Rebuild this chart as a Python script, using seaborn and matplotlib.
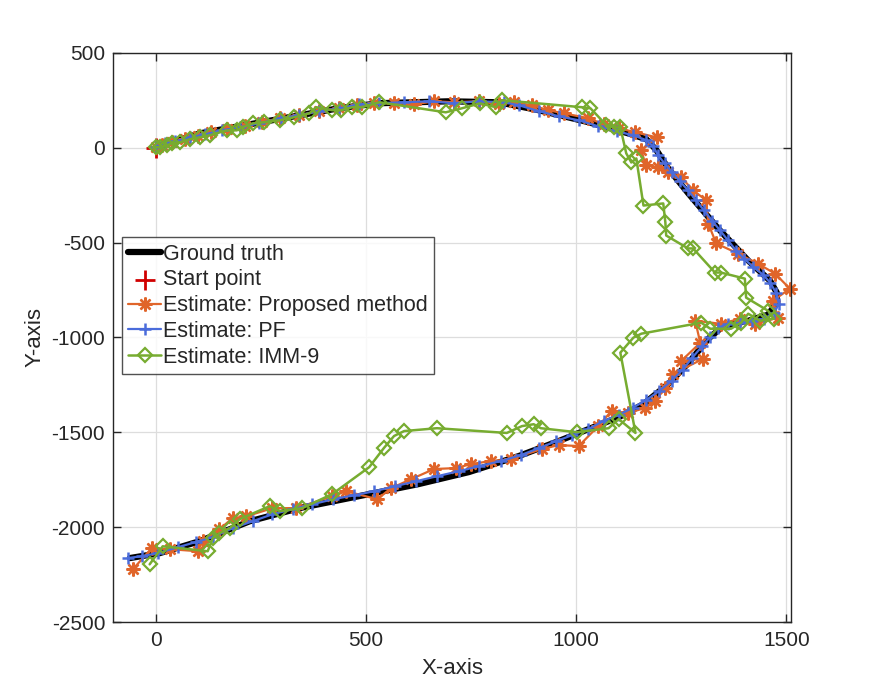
import numpy as np
import pandas as pd
import seaborn as sns
import matplotlib
matplotlib.use("Agg")
import matplotlib.pyplot as plt

# ground truth trajectory
truth_x = [0, 105, 224, 342, 437, 532, 697, 816, 911, 1029, 1124, 1167, 1191, 1219, 1267,
           1338, 1409, 1461, 1477, 1477, 1456, 1409, 1350, 1314, 1267, 1219, 1160, 1101,
           1029, 958, 863, 745, 626, 508, 342, 224, 105, 10, -61]
truth_y = [0, 75, 123, 170, 208, 234, 244, 239, 197, 134, 75, 44, -14, -110, -242,
           -427, -595, -701, -764, -817, -880, -912, -939, -1007, -1134, -1245, -1351, -1420,
           -1483, -1546, -1625, -1709, -1772, -1825, -1899, -1968, -2073, -2136, -2162]

start_x = [0]
start_y = [0]

# proposed method estimate
prop_x = [1, 15, 39, 69, 100, 133, 171, 212, 252, 295, 342, 389, 437, 479, 519, 567, 615,
          662, 709, 769, 816, 852, 894, 934, 970, 1029, 1065, 1101, 1141, 1191, 1155, 1165,
          1195, 1219, 1250, 1278, 1309, 1314, 1333, 1385, 1432, 1473, 1508, 1468, 1480,
          1425, 1390, 1344, 1283, 1295, 1250, 1302, 1231, 1212, 1188, 1164, 1124, 1084,
          1053, 1006, 958, 918, 845, 797, 750, 714, 662, 608, 560, 527, 453, 420, 335,
          278, 216, 183, 152, 112, 100, 34, -9, -54]
prop_y = [2, 12, 28, 44, 60, 81, 97, 112, 134, 155, 171, 192, 208, 223, 234, 234, 228,
          244, 239, 244, 228, 239, 223, 197, 181, 155, 123, 102, 81, 54, -14, -93,
          -104, -131, -157, -225, -278, -400, -505, -558, -611, -664, -743, -806, -896,
          -928, -901, -928, -912, -1028, -1123, -1112, -1191, -1265, -1334, -1371, -1398, -1387,
          -1466, -1572, -1567, -1588, -1641, -1651, -1667, -1688, -1693, -1746, -1794, -1852,
          -1810, -1836, -1899, -1899, -1942, -1952, -2010, -2073, -2126, -2115, -2110, -2221]

# particle filter estimate
pf_x = [1, 22, 46, 81, 117, 157, 200, 247, 299, 342, 389, 437, 484, 531, 591, 650, 709,
        769, 828, 864, 911, 959, 1006, 1053, 1096, 1136, 1167, 1183, 1195, 1210, 1228,
        1247, 1266, 1285, 1304, 1323, 1342, 1361, 1380, 1399, 1420, 1444, 1461, 1475,
        1482, 1471, 1447, 1418, 1390, 1361, 1337, 1319, 1300, 1276, 1253, 1227, 1198,
        1167, 1134, 1101, 1065, 1029, 991, 953, 911, 868, 821, 769, 722, 669, 620, 570,
        520, 472, 423, 373, 326, 278, 231, 183, 136, 95, 53, 5, -32, -66]
pf_y = [2, 23, 33, 54, 70, 91, 107, 128, 155, 171, 192, 207, 229, 234, 239, 244, 234,
        244, 239, 223, 192, 165, 144, 112, 86, 65, 39, 7, -41, -83, -131,
        -178, -225, -278, -331, -384, -436, -489, -542, -585, -627, -669, -711, -764,
        -822, -870, -901, -912, -922, -928, -949, -996, -1044, -1107, -1170, -1228, -1281,
        -1329, -1371, -1408, -1440, -1482, -1514, -1546, -1583, -1620, -1651, -1678, -1704,
        -1731, -1757, -1783, -1810, -1831, -1852, -1878, -1905, -1931, -1968, -2005, -2052,
        -2078, -2105, -2136, -2152, -2162]

# IMM-9 estimate
imm_x = [1, 10, 27, 39, 58, 81, 105, 129, 169, 193, 207, 231, 259, 295, 330, 366, 382,
         420, 441, 468, 491, 532, 690, 728, 771, 809, 823, 1013, 1034, 1072, 1089, 1105,
         1119, 1131, 1143, 1160, 1207, 1212, 1214, 1266, 1278, 1330, 1344, 1401, 1404,
         1456, 1470, 1437, 1409, 1392, 1368, 1319, 1297, 1155, 1136, 1105, 1141, 1101,
         1077, 1001, 916, 899, 871, 835, 669, 591, 567, 543, 508, 420, 349, 295, 271,
         200, 176, 152, 136, 124, 17, -14]
imm_y = [2, 2, 12, 23, 28, 44, 54, 65, 91, 91, 107, 128, 134, 144, 160, 181, 213,
         197, 197, 213, 213, 239, 186, 207, 233, 213, 250, 213, 207, 118, 107, 107,
         -30, -78, -57, -305, -294, -394, -463, -531, -531, -658, -658, -690, -790,
         -859, -901, -912, -875, -922, -954, -954, -922, -980, -1001, -1080, -1503, -1430,
         -1478, -1499, -1478, -1457, -1467, -1503, -1478, -1493, -1519, -1582, -1683, -1825,
         -1899, -1915, -1889, -1957, -2005, -2031, -2057, -2126, -2100, -2195]

sns.set_theme(style="white")
plt.rcParams["font.family"] = ["Liberation Sans", "DejaVu Sans"]
plt.rcParams["axes.unicode_minus"] = False

fig = plt.figure(figsize=(8.77, 7.0), dpi=100)
ax = fig.add_axes([0.1294, 0.1111, 0.7722, 0.8136])

orange = "#E0652A"
blue = "#4A6CDB"
green = "#77AC30"

sns.lineplot(x=truth_x, y=truth_y, sort=False, estimator=None, color="black",
             linewidth=4.5, label="Ground truth", ax=ax)
sns.lineplot(x=prop_x, y=prop_y, sort=False, estimator=None, color=orange,
             linewidth=1.6, marker=(8, 2, 0), markersize=10,
             markeredgewidth=1.7, markeredgecolor=orange,
             label="Estimate: Proposed method", ax=ax, clip_on=False)
sns.lineplot(x=pf_x, y=pf_y, sort=False, estimator=None, color=blue,
             linewidth=1.6, marker="+", markersize=9,
             markeredgewidth=1.8, markeredgecolor=blue,
             label="Estimate: PF", ax=ax)
sns.lineplot(x=imm_x, y=imm_y, sort=False, estimator=None, color=green,
             linewidth=1.8, marker="D", markersize=7.5,
             markerfacecolor="none", markeredgewidth=1.6, markeredgecolor=green,
             label="Estimate: IMM-9", ax=ax)
sns.scatterplot(x=start_x, y=start_y, marker="+", s=220, color="#D00000",
                linewidth=2.0, label="Start point", ax=ax, zorder=1)

ax.set_xlim(-100, 1510)
ax.set_ylim(-2500, 500)
ax.set_xticks([0, 500, 1000, 1500])
ax.set_yticks([-2500, -2000, -1500, -1000, -500, 0, 500])
ax.grid(True, color="#DDDDDD", linewidth=0.9)
ax.set_axisbelow(True)
ax.tick_params(direction="in", length=6, width=1, colors="#262626", labelsize=15,
               top=True, right=True, bottom=True, left=True, pad=6)
for sp in ax.spines.values():
    sp.set_color("#262626")
    sp.set_linewidth(1.0)
ax.set_xlabel("X-axis", fontsize=16, color="#262626", labelpad=6)
ax.set_ylabel("Y-axis", fontsize=16, color="#262626", labelpad=4)

handles, labels = ax.get_legend_handles_labels()
order = ["Ground truth", "Start point", "Estimate: Proposed method",
         "Estimate: PF", "Estimate: IMM-9"]
hmap = dict(zip(labels, handles))
leg = ax.legend([hmap[k] for k in order], order, loc="upper left",
                bbox_to_anchor=(0.0126, 0.676), fontsize=15.5, frameon=True,
                fancybox=False, edgecolor="#262626", handlelength=1.5,
                handletextpad=0.1, borderpad=0.3, labelspacing=0.22,
                borderaxespad=0)
leg.get_frame().set_linewidth(1.0)

fig.savefig("out.png", dpi=100)
